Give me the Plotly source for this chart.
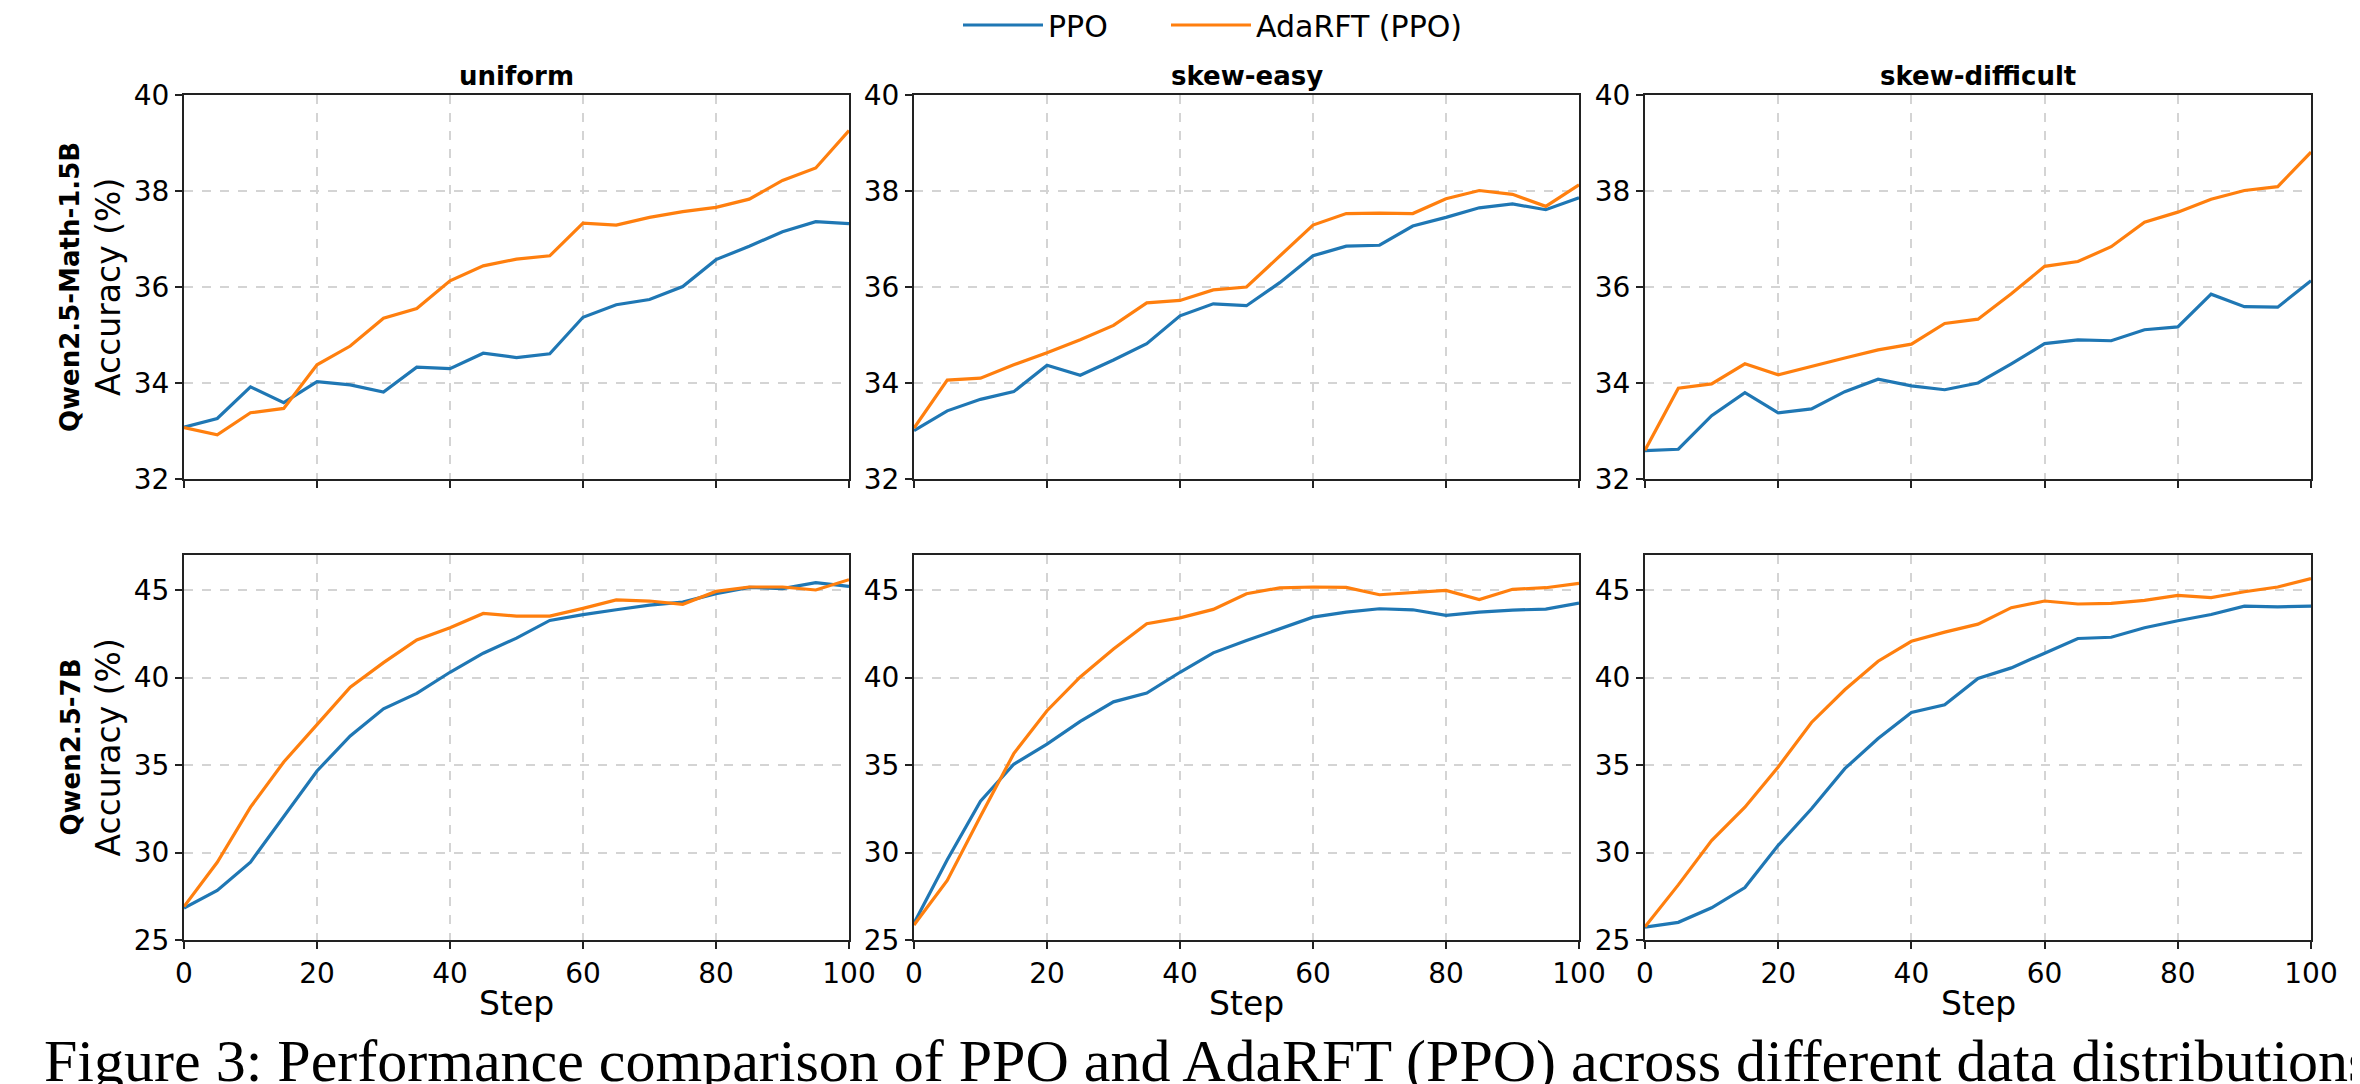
import plotly.graph_objects as go

# ---------------- data ----------------
steps = [0, 5, 10, 15, 20, 25, 30, 35, 40, 45, 50, 55, 60, 65, 70, 75, 80, 85, 90, 95, 100]

distributions = ["uniform", "skew-easy", "skew-difficult"]
models = ["Qwen2.5-Math-1.5B", "Qwen2.5-7B"]
series_names = ["PPO", "AdaRFT (PPO)"]

# Qwen2.5-Math-1.5B
ppo_15b_uniform = [33.08, 33.26, 33.92, 33.59, 34.03, 33.96, 33.81, 34.33, 34.30, 34.62, 34.53,
                   34.61, 35.37, 35.63, 35.74, 36.01, 36.57, 36.85, 37.15, 37.36, 37.32]
ada_15b_uniform = [33.07, 32.92, 33.38, 33.47, 34.38, 34.77, 35.35, 35.55, 36.13, 36.44, 36.58,
                   36.65, 37.33, 37.29, 37.45, 37.57, 37.66, 37.83, 38.22, 38.48, 39.26]
ppo_15b_easy = [33.01, 33.42, 33.66, 33.82, 34.37, 34.16, 34.48, 34.82, 35.40, 35.65, 35.61,
                36.09, 36.65, 36.85, 36.87, 37.27, 37.45, 37.65, 37.73, 37.61, 37.86]
ada_15b_easy = [33.06, 34.06, 34.10, 34.38, 34.63, 34.90, 35.20, 35.67, 35.72, 35.94, 36.00,
                36.65, 37.29, 37.53, 37.54, 37.53, 37.84, 38.01, 37.93, 37.68, 38.13]
ppo_15b_diff = [32.59, 32.62, 33.32, 33.80, 33.38, 33.46, 33.82, 34.08, 33.94, 33.86, 34.00,
                34.40, 34.82, 34.90, 34.88, 35.11, 35.17, 35.85, 35.59, 35.58, 36.13]
ada_15b_diff = [32.60, 33.89, 33.98, 34.40, 34.17, 34.35, 34.52, 34.69, 34.81, 35.24, 35.33,
                35.86, 36.43, 36.53, 36.84, 37.35, 37.56, 37.83, 38.01, 38.09, 38.81]

# Qwen2.5-7B
ppo_7b_uniform = [26.82, 27.83, 29.45, 32.04, 34.66, 36.66, 38.21, 39.09, 40.30, 41.39, 42.25,
                  43.26, 43.59, 43.87, 44.14, 44.31, 44.79, 45.15, 45.08, 45.42, 45.21]
ada_7b_uniform = [26.91, 29.44, 32.59, 35.17, 37.31, 39.44, 40.85, 42.15, 42.84, 43.66, 43.51,
                  43.51, 43.95, 44.43, 44.37, 44.18, 44.92, 45.17, 45.17, 45.00, 45.59]
ppo_7b_easy = [25.96, 29.59, 32.93, 35.04, 36.19, 37.49, 38.61, 39.11, 40.30, 41.41, 42.11,
               42.78, 43.45, 43.74, 43.93, 43.87, 43.55, 43.74, 43.85, 43.91, 44.25]
ada_7b_easy = [25.86, 28.40, 32.07, 35.65, 38.10, 40.03, 41.63, 43.07, 43.41, 43.89, 44.79,
               45.12, 45.17, 45.15, 44.73, 44.85, 44.98, 44.45, 45.04, 45.13, 45.38]
ppo_7b_diff = [25.73, 26.01, 26.84, 28.00, 30.41, 32.50, 34.79, 36.51, 38.00, 38.44, 39.95,
               40.55, 41.39, 42.23, 42.30, 42.84, 43.24, 43.60, 44.08, 44.04, 44.08]
ada_7b_diff = [25.76, 28.15, 30.68, 32.59, 34.89, 37.43, 39.30, 40.93, 42.07, 42.59, 43.05,
               43.99, 44.37, 44.20, 44.24, 44.41, 44.69, 44.56, 44.90, 45.17, 45.65]

x_ticks = [0, 20, 40, 60, 80, 100]
y_ticks_15b = [32, 34, 36, 38, 40]
y_ticks_7b = [25, 30, 35, 40, 45]
y_range_15b = [32, 40]
y_range_7b = [25, 47]

caption = ("Figure 3: Performance comparison of PPO and AdaRFT (PPO) across different "
           "data distributions (uniform, skew-easy, skew-difficult)")

# ---------------- layout helpers ----------------
# the page body has an 8px margin; positions below are page pixels
OFF = 8
W, H = 2360 - OFF, 1084 - OFF
col_px = [(184, 849), (914, 1579), (1645, 2311)]
row_px = [(95, 479), (555, 940)]


def px(v):
    return (v - OFF) / W


def py(v):
    return 1 - (v - OFF) / H


colors = ["#1f77b4", "#ff7f0e"]
legend_ids = ["legend", "legend2"]
FONT = "DejaVu Sans"

panels = [
    (0, 0, ppo_15b_uniform, ada_15b_uniform),
    (0, 1, ppo_15b_easy, ada_15b_easy),
    (0, 2, ppo_15b_diff, ada_15b_diff),
    (1, 0, ppo_7b_uniform, ada_7b_uniform),
    (1, 1, ppo_7b_easy, ada_7b_easy),
    (1, 2, ppo_7b_diff, ada_7b_diff),
]

fig = go.Figure()
layout = {}
for k, (r, c, ppo, ada) in enumerate(panels):
    suffix = "" if k == 0 else str(k + 1)
    xa, ya = "x" + suffix, "y" + suffix
    for s, vals in enumerate([ppo, ada]):
        fig.add_trace(go.Scatter(
            x=steps, y=vals, mode="lines", name=series_names[s],
            line=dict(color=colors[s], width=3.2),
            xaxis=xa, yaxis=ya, showlegend=(k == 0),
            legend=legend_ids[s], legendgroup=series_names[s], cliponaxis=True,
        ))
    x0, x1 = col_px[c]
    y0, y1 = row_px[r]
    common = dict(
        showline=True, mirror=True, linecolor="#222222", linewidth=2,
        ticks="outside", ticklen=7, tickwidth=2, tickcolor="#222222",
        showgrid=True, gridcolor="#d4d4d4", griddash="dash", gridwidth=1.5,
        zeroline=False, automargin=False,
        tickfont=dict(family=FONT, size=28, color="black"),
    )
    layout["xaxis" + suffix] = dict(
        common, domain=[px(x0), px(x1)], range=[0, 100], tickvals=x_ticks,
        anchor=ya, showticklabels=(r == 1),
    )
    layout["yaxis" + suffix] = dict(
        common, domain=[py(y1), py(y0)],
        range=y_range_15b if r == 0 else y_range_7b,
        tickvals=y_ticks_15b if r == 0 else y_ticks_7b,
        anchor=xa,
    )

annotations = []
# column titles and x-axis titles
for c, name in enumerate(distributions):
    xc = px((col_px[c][0] + col_px[c][1]) / 2)
    annotations.append(dict(
        text="<b>%s</b>" % name, x=xc, y=py(76), xref="paper", yref="paper",
        xanchor="center", yanchor="middle", showarrow=False,
        font=dict(family=FONT, size=26, color="black"),
    ))
    annotations.append(dict(
        text="Step", x=xc, y=py(1003), xref="paper", yref="paper",
        xanchor="center", yanchor="middle", showarrow=False,
        font=dict(family=FONT, size=33, color="black"),
    ))
# row labels
for r, m in enumerate(models):
    yc = py((row_px[r][0] + row_px[r][1]) / 2)
    annotations.append(dict(
        text="<b>%s</b>" % m, x=px(70), y=yc, xref="paper", yref="paper",
        xanchor="center", yanchor="middle", showarrow=False, textangle=-90,
        font=dict(family=FONT, size=26, color="black"),
    ))
    annotations.append(dict(
        text="Accuracy (%)", x=px(108), y=yc, xref="paper", yref="paper",
        xanchor="center", yanchor="middle", showarrow=False, textangle=-90,
        font=dict(family=FONT, size=33, color="black"),
    ))
# cut-off caption below the figure
annotations.append(dict(
    text=caption, x=px(42), y=py(1026), xref="paper", yref="paper",
    xanchor="left", yanchor="top", showarrow=False,
    font=dict(family="Liberation Serif", size=60, color="black"),
))

legend_common = dict(
    orientation="h", y=py(25), xanchor="left", yanchor="middle",
    font=dict(family=FONT, size=30, color="black"),
    bgcolor="rgba(0,0,0,0)", itemwidth=80,
)

fig.update_layout(
    **layout,
    width=W, height=H,
    margin=dict(l=0, r=0, t=0, b=0, autoexpand=False),
    paper_bgcolor="white", plot_bgcolor="white",
    annotations=annotations,
    legend=dict(legend_common, x=px(958)),
    legend2=dict(legend_common, x=px(1166)),
)

fig.write_html("out.html")
